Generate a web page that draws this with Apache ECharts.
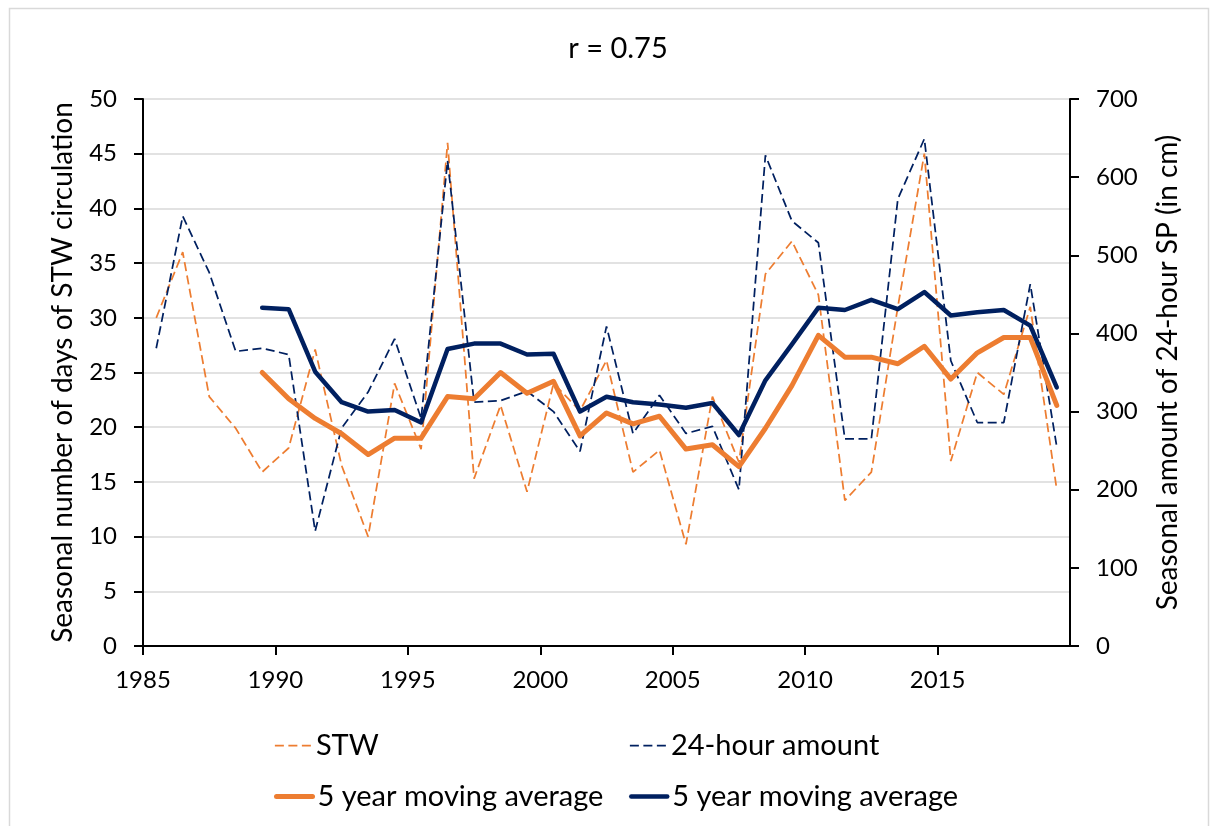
<!DOCTYPE html>
<html>
<head>
<meta charset="utf-8">
<script src="https://cdn.jsdelivr.net/npm/echarts@6/dist/echarts.min.js"></script>
<style>
  html, body { margin: 0; padding: 0; background: #fff; }
  #chart { width: 1215px; height: 826px; }
</style>
</head>
<body>
<div id="chart"></div>
<script>
// Seasons 1985–2019
const years = [1985, 1986, 1987, 1988, 1989, 1990, 1991, 1992, 1993, 1994,
               1995, 1996, 1997, 1998, 1999, 2000, 2001, 2002, 2003, 2004,
               2005, 2006, 2007, 2008, 2009, 2010, 2011, 2012, 2013, 2014,
               2015, 2016, 2017, 2018, 2019];

// Seasonal number of days of STW circulation (left axis)
const stwDays = [30, 36, 22.8, 19.9, 15.9, 18.1, 27.1, 16.5, 10, 24,
                 18, 46, 15.3, 22, 14.1, 24, 21.5, 26.1, 15.9, 17.9,
                 9.3, 22.8, 16.8, 34, 37, 32.1, 13.3, 15.9, 31, 45,
                 16.9, 25, 23, 31, 14.3];

// Seasonal amount of 24-hour snow precipitation, cm (right axis)
const sp24h = [381, 550, 478, 377, 381, 373, 147, 279, 325, 393,
               291, 621, 312, 314, 326, 300, 249, 409, 272, 321,
               272, 281, 200, 628, 544, 516, 265, 265, 572, 649,
               365, 286, 286, 463, 255];

// 5 year moving averages (first four seasons have no value)
const stwMA = [null, null, null, null, 25.0, 22.6, 20.8, 19.4, 17.5, 19.0,
               19.0, 22.8, 22.6, 25.0, 23.1, 24.2, 19.2, 21.3, 20.3, 21.0,
               18.0, 18.4, 16.4, 19.9, 23.8, 28.4, 26.4, 26.4, 25.8, 27.4,
               24.4, 26.8, 28.2, 28.2, 22.0];
const sp24hMA = [null, null, null, null, 433, 431, 351, 312, 300, 302,
                 286, 380, 387, 387, 373, 374, 300, 319, 312, 309,
                 305, 311, 270, 340, 386, 433, 430, 443, 431, 453,
                 423, 427, 430, 410, 331];

const xTicks = [1985, 1990, 1995, 2000, 2005, 2010, 2015];

const ORANGE = '#ED7D31';
const NAVY = '#002060';
const FONT = 'Lato, "Liberation Sans", sans-serif';
const NAME_SIZE = 28;    // axis names
const LEGEND_SIZE = 29;  // legend and title
const TICK_SIZE = 24;    // numeric tick labels

// each season is drawn at the middle of its year slot
const pts = arr => years.map((y, i) => [y + 0.5, arr[i]]);

const chart = echarts.init(document.getElementById('chart'), null, { renderer: 'canvas' });

// one legend box per entry so that the four entries sit on a 2×2 layout
function legendEntry(name, left, top, lineWidth) {
  return {
    orient: 'horizontal',
    left: left,
    top: top,
    data: [name],
    itemWidth: 36,
    itemHeight: 14,
    selectedMode: false,
    itemStyle: { opacity: 0 },
    lineStyle: { width: lineWidth },
    textStyle: { fontFamily: FONT, fontSize: LEGEND_SIZE, color: '#000' },
    formatter: n => n.indexOf('moving') >= 0 ? '5 year moving average' : n
  };
}

chart.setOption({
  backgroundColor: '#fff',
  animation: false,
  graphic: [{
    type: 'rect',
    shape: { x: 9.5, y: 8.5, width: 1199, height: 830 },
    style: { fill: 'none', stroke: '#D9D9D9', lineWidth: 1.5 },
    silent: true
  }],
  title: {
    text: 'r = 0.75',
    left: 613,
    top: 29,
    textAlign: 'center',
    textStyle: { fontFamily: FONT, fontSize: LEGEND_SIZE, fontWeight: 'normal', color: '#000' }
  },
  legend: [
    legendEntry('STW', 269, 726, 1.75),
    legendEntry('24-hour amount', 624, 726, 1.75),
    legendEntry('STW 5 year moving average', 269, 777, 5),
    legendEntry('24-hour 5 year moving average', 624, 777, 4.5)
  ],
  grid: { left: 143, right: 145, top: 99, bottom: 180, containLabel: false },
  xAxis: {
    type: 'value',
    min: 1985,
    max: 2020,
    interval: 5,
    axisLine: { show: true, onZero: false, lineStyle: { color: '#000', width: 2 } },
    axisTick: { show: true, inside: false, length: 9, lineStyle: { color: '#000', width: 2 } },
    splitLine: { show: false },
    axisLabel: {
      margin: 22,
      showMaxLabel: false,
      fontFamily: FONT, fontSize: TICK_SIZE, color: '#000',
      formatter: v => (xTicks.indexOf(v) >= 0 ? String(v) : '')
    }
  },
  yAxis: [
    {
      type: 'value',
      min: 0, max: 50, interval: 5,
      position: 'left',
      name: 'Seasonal number of days of STW circulation',
      nameLocation: 'middle',
      nameGap: 66,
      nameTextStyle: { fontFamily: FONT, fontSize: NAME_SIZE, color: '#000' },
      axisLine: { show: true, lineStyle: { color: '#000', width: 2 } },
      axisTick: { show: true, inside: false, length: 9, lineStyle: { color: '#000', width: 2 } },
      splitLine: { show: true, lineStyle: { color: '#D9D9D9', width: 1.5 } },
      axisLabel: { margin: 26, fontFamily: FONT, fontSize: TICK_SIZE, color: '#000' }
    },
    {
      type: 'value',
      min: 0, max: 700, interval: 100,
      position: 'right',
      name: 'Seasonal amount of 24-hour SP (in cm)',
      nameLocation: 'middle',
      nameGap: 84,
      nameRotate: 90,
      nameTextStyle: { fontFamily: FONT, fontSize: NAME_SIZE, color: '#000' },
      axisLine: { show: true, lineStyle: { color: '#000', width: 2 } },
      axisTick: { show: true, inside: false, length: 9, lineStyle: { color: '#000', width: 2 } },
      splitLine: { show: false },
      axisLabel: { margin: 26, fontFamily: FONT, fontSize: TICK_SIZE, color: '#000' }
    }
  ],
  series: [
    {
      name: 'STW',
      type: 'line',
      yAxisIndex: 0,
      data: pts(stwDays),
      symbol: 'none',
      lineStyle: { color: ORANGE, width: 1.75, type: [9, 4.5] },
      itemStyle: { color: ORANGE },
      z: 2
    },
    {
      name: '24-hour amount',
      type: 'line',
      yAxisIndex: 1,
      data: pts(sp24h),
      symbol: 'none',
      lineStyle: { color: NAVY, width: 1.75, type: [9, 4.5] },
      itemStyle: { color: NAVY },
      z: 2
    },
    {
      name: 'STW 5 year moving average',
      type: 'line',
      yAxisIndex: 0,
      data: pts(stwMA),
      symbol: 'none',
      connectNulls: false,
      lineStyle: { color: ORANGE, width: 5, cap: 'round', join: 'round' },
      itemStyle: { color: ORANGE },
      z: 3
    },
    {
      name: '24-hour 5 year moving average',
      type: 'line',
      yAxisIndex: 1,
      data: pts(sp24hMA),
      symbol: 'none',
      connectNulls: false,
      lineStyle: { color: NAVY, width: 4.5, cap: 'round', join: 'round' },
      itemStyle: { color: NAVY },
      z: 3
    }
  ]
});
</script>
</body>
</html>
